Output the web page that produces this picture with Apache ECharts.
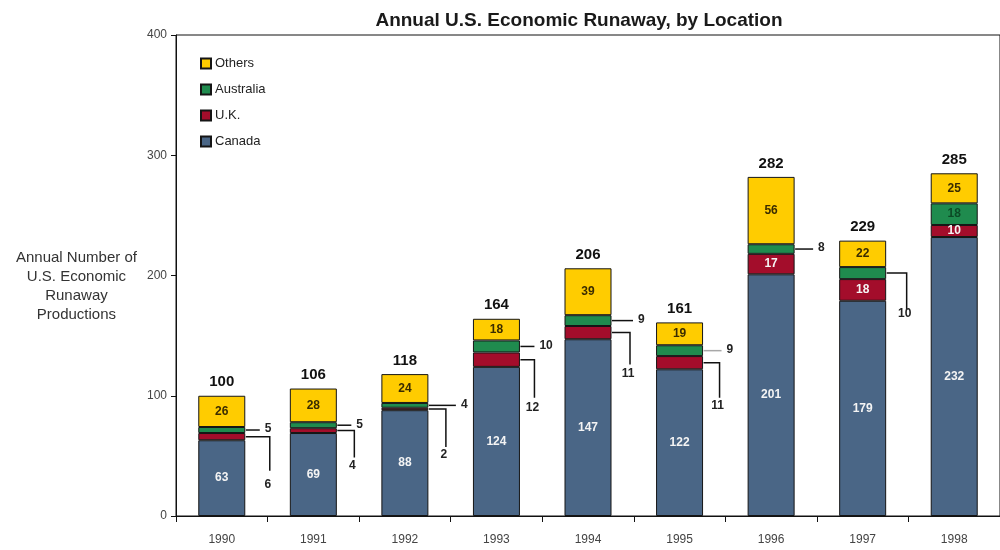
<!DOCTYPE html>
<html><head><meta charset="utf-8">
<script src="https://cdn.jsdelivr.net/npm/echarts@6/dist/echarts.min.js"></script>
<style>html,body{margin:0;padding:0;background:#fff}#c{width:1000px;height:550px}</style>
</head><body><div id="c"></div>
<script>
const years = ['1990','1991','1992','1993','1994','1995','1996','1997','1998'];
const canada = [63, 69, 88, 124, 147, 122, 201, 179, 232];
const uk = [6, 4, 2, 12, 11, 11, 17, 18, 10];
const australia = [5, 5, 4, 10, 9, 9, 8, 10, 18];
const others = [26, 28, 24, 18, 39, 19, 56, 22, 25];
const totals = [100, 106, 118, 164, 206, 161, 282, 229, 285];
const yTicks = [0, 100, 200, 300, 400];

// callout layout (pixel styling, separate from data)
const ukCallout = [
  {k:'e', len:24, drop:34, gap:14}, {k:'e', len:17, drop:27, gap:8}, {k:'e', len:17, drop:38, gap:8},
  {k:'e', len:14, drop:38, gap:10}, {k:'e', len:18, drop:32, gap:9}, {k:'e', len:16, drop:35, gap:8},
  null, null, null];
const ausCallout = [
  {k:'h', len:14}, {k:'h', len:14}, {k:'h', len:27}, {k:'h', len:14}, {k:'h', len:21},
  {k:'h', len:18, gray:true}, {k:'h', len:18}, {k:'e', len:20, drop:36, gap:5}, null];

const BAR_W = 47;
const FONT = '"Liberation Sans", Arial, sans-serif';

const calloutData = [];
years.forEach((y, i) => {
  if (ukCallout[i]) calloutData.push({value: [i, canada[i] + uk[i] / 2, uk[i]], cfg: ukCallout[i]});
  if (ausCallout[i]) calloutData.push({value: [i, canada[i] + uk[i] + australia[i] / 2, australia[i]], cfg: ausCallout[i]});
});

const lbl = (color) => ({show: true, position: 'inside', color: color, fontSize: 12, fontWeight: 'bold', fontFamily: FONT});
const borderStyle = {borderColor: '#151515', borderWidth: 1};

const chart = echarts.init(document.getElementById('c'));
chart.setOption({
  animation: false,
  backgroundColor: '#fff',
  title: {text: 'Annual U.S. Economic Runaway, by Location', left: 574, textAlign: 'center', top: 6,
    textStyle: {fontFamily: FONT, fontSize: 19, fontWeight: 'bold', color: '#1a1a1a'}},
  legend: {orient: 'vertical', left: 195, top: 52, itemWidth: 10, itemHeight: 10, itemGap: 13,
    icon: 'rect', data: ['Others', 'Australia', 'U.K.', 'Canada'],
    textStyle: {fontFamily: FONT, fontSize: 13, color: '#222', padding: [0, 0, 0, -1]}},
  graphic: [{type: 'text', left: 16, top: 248, style: {text: 'Annual Number of\nU.S. Economic\nRunaway\nProductions',
    textAlign: 'center', font: '15px ' + FONT, fill: '#333', lineHeight: 19}}],
  grid: {left: 176, top: 35, width: 832, bottom: 34, show: true, borderColor: '#111', borderWidth: 1},
  xAxis: {type: 'category', data: years,
    axisLine: {lineStyle: {color: '#111', width: 1}},
    axisTick: {show: true, length: 6, lineStyle: {color: '#111'}},
    axisLabel: {fontFamily: FONT, fontSize: 12, color: '#444', margin: 18}},
  yAxis: {type: 'value', min: yTicks[0], max: yTicks[yTicks.length - 1], interval: 100,
    axisLine: {show: true, lineStyle: {color: '#111'}},
    axisTick: {show: true, length: 5, lineStyle: {color: '#111'}},
    splitLine: {show: false},
    axisLabel: {fontFamily: FONT, fontSize: 12, color: '#444', margin: 9}},
  series: [
    {name: 'Canada', type: 'bar', stack: 'a', barWidth: BAR_W, data: canada,
      itemStyle: Object.assign({color: '#4a6686'}, borderStyle), label: lbl('#f4f4f4')},
    {name: 'U.K.', type: 'bar', stack: 'a', data: uk,
      itemStyle: Object.assign({color: '#a30d2b'}, borderStyle),
      label: Object.assign(lbl('#f4f4f4'), {formatter: p => ukCallout[p.dataIndex] ? '' : p.value})},
    {name: 'Australia', type: 'bar', stack: 'a', data: australia,
      itemStyle: Object.assign({color: '#1f8b4e'}, borderStyle),
      label: Object.assign(lbl('#0c4a26'), {formatter: p => ausCallout[p.dataIndex] ? '' : p.value})},
    {name: 'Others', type: 'bar', stack: 'a', data: others,
      itemStyle: Object.assign({color: '#ffcc00'}, borderStyle), label: lbl('#3a2c00')},
    {name: 'total', type: 'bar', stack: 'a', data: totals.map(() => 0),
      itemStyle: {color: 'rgba(0,0,0,0)', borderWidth: 0},
      label: {show: true, position: 'top', distance: 6, formatter: p => totals[p.dataIndex],
        fontFamily: FONT, fontSize: 15, fontWeight: 'bold', color: '#111'}},
    {name: 'callouts', type: 'custom', clip: false, z: 10, data: calloutData,
      encode: {x: 0, y: 1},
      renderItem: (params, api) => {
        const d = calloutData[params.dataIndex];
        const c = d.cfg;
        const p = api.coord([api.value(0), api.value(1)]);
        const x0 = p[0] + BAR_W / 2 + 0.5, y0 = p[1];
        const stroke = c.gray ? '#a8a8a8' : '#111';
        const txtStyle = {text: String(api.value(2)), font: 'bold 12px ' + FONT, fill: '#222'};
        if (c.k === 'h') {
          return {type: 'group', children: [
            {type: 'polyline', shape: {points: [[x0, y0], [x0 + c.len, y0]]}, style: {stroke: stroke, lineWidth: 1.5, fill: null}},
            {type: 'text', style: Object.assign(txtStyle, {x: x0 + c.len + 5, y: y0 - 1, textAlign: 'left', textVerticalAlign: 'middle'})}
          ]};
        }
        return {type: 'group', children: [
          {type: 'polyline', shape: {points: [[x0, y0], [x0 + c.len, y0], [x0 + c.len, y0 + c.drop]]}, style: {stroke: stroke, lineWidth: 1.5, fill: null}},
          {type: 'text', style: Object.assign(txtStyle, {x: x0 + c.len - 2, y: y0 + c.drop + c.gap, textAlign: 'center', textVerticalAlign: 'middle'})}
        ]};
      }}
  ]
});
</script></body></html>
